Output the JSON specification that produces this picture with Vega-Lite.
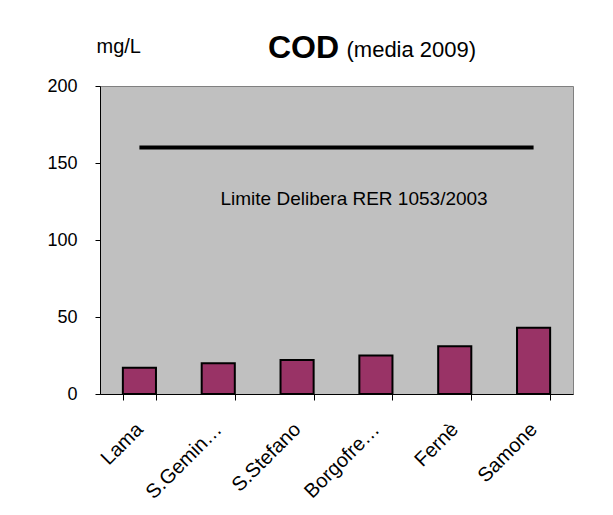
{
  "$schema": "https://vega.github.io/schema/vega-lite/v6.json",
  "width": 473,
  "height": 308,
  "autosize": "none",
  "padding": {"left": 100, "top": 86, "right": 40, "bottom": 121},
  "background": "white",
  "title": {
    "text": "COD",
    "anchor": "start",
    "frame": "group",
    "dx": 168,
    "font": "Liberation Sans",
    "fontSize": 32,
    "fontWeight": "bold",
    "color": "black",
    "offset": -29
  },
  "config": {
    "view": {"fill": "#C0C0C0", "stroke": "#808080", "strokeWidth": 1},
    "axis": {"labelFont": "Liberation Sans", "titleFont": "Liberation Sans", "labelColor": "black", "titleColor": "black"}
  },
  "resolve": {"axis": {"x": "independent"}},
  "data": {
    "values": [
      {"sito": "Lama", "cod": 17, "limite": 160},
      {"sito": "S.Gemin…", "cod": 20, "limite": 160},
      {"sito": "S.Stefano", "cod": 22, "limite": 160},
      {"sito": "Borgofre…", "cod": 25, "limite": 160},
      {"sito": "Fernè", "cod": 31, "limite": 160},
      {"sito": "Samone", "cod": 43, "limite": 160}
    ]
  },
  "layer": [
    {
      "mark": {"type": "bar", "fill": "#993366", "stroke": "black", "strokeWidth": 2},
      "encoding": {
        "x": {
          "field": "sito", "type": "nominal", "sort": null,
          "scale": {"paddingInner": 0.58, "paddingOuter": 0.29},
          "axis": {
            "title": null, "labelAngle": -45, "labelFontSize": 20, "labelPadding": 26,
            "tickBand": "extent", "tickSize": 6, "tickColor": "#000", "domainColor": "#000",
            "labelAlign": "right", "labelBaseline": "middle"
          }
        },
        "y": {
          "field": "cod", "type": "quantitative",
          "scale": {"domain": [0, 200]},
          "axis": {
            "values": [0, 50, 100, 150, 200], "grid": false, "tickSize": 5, "tickColor": "#000",
            "domainColor": "#000", "labelFontSize": 18, "labelPadding": 18,
            "title": "mg/L", "titleAngle": 0, "titleFontSize": 20, "titleFontWeight": "normal",
            "titleAlign": "left", "titleBaseline": "alphabetic", "titleX": -4, "titleY": -34
          }
        }
      }
    },
    {
      "mark": {"type": "line", "color": "black", "strokeWidth": 4},
      "encoding": {
        "x": {
          "field": "sito", "type": "nominal", "sort": null,
          "axis": {
            "orient": "top", "labels": false, "ticks": false, "domain": false, "grid": false,
            "title": "(media 2009)", "titleFontSize": 22, "titleFontWeight": "normal",
            "titleAlign": "left", "titleBaseline": "alphabetic", "titleX": 246, "titleY": -30
          }
        },
        "y": {"field": "limite", "type": "quantitative"}
      }
    },
    {
      "data": {"values": [{"sito": "S.Stefano", "y": 123, "testo": "Limite Delibera RER 1053/2003"}]},
      "mark": {"type": "text", "font": "Liberation Sans", "fontSize": 19, "color": "black", "align": "center", "baseline": "alphabetic", "dx": 57},
      "encoding": {
        "x": {"field": "sito", "type": "nominal", "sort": null, "axis": null},
        "y": {"field": "y", "type": "quantitative"},
        "text": {"field": "testo"}
      }
    }
  ]
}
